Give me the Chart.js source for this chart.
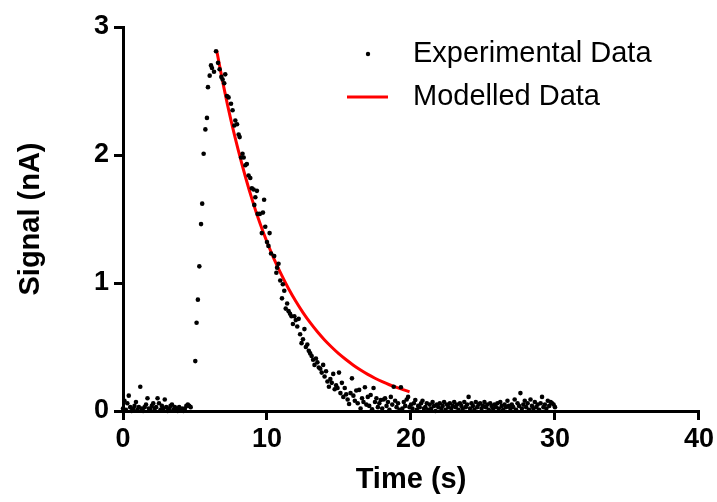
<!DOCTYPE html>
<html>
<head>
<meta charset="utf-8">
<script src="https://cdn.jsdelivr.net/npm/chart.js@4.4.1/dist/chart.umd.min.js"></script>
<style>
    html, body { margin: 0; padding: 0; background: #fff; }
    #wrap { width: 717px; height: 502px; }
</style>
</head>
<body>
<div id="wrap"><canvas id="signalChart" width="717" height="502"></canvas></div>
<script>
const baselineBefore = [
    [0.0, 0.02], [0.1, 0.08], [0.2, 0.01], [0.3, 0.06], [0.4, 0.12], [0.5, 0.03], [0.6, 0.0], [0.7, 0.02],
    [0.8, 0.04], [0.9, 0.07], [1.0, 0.01], [1.1, 0.03], [1.2, 0.19], [1.3, 0.02], [1.4, 0.0], [1.5, 0.03],
    [1.6, 0.05], [1.7, 0.10], [1.8, 0.02], [1.9, 0.01], [2.0, 0.04], [2.1, 0.06], [2.2, 0.02], [2.3, 0.03],
    [2.4, 0.10], [2.5, 0.06], [2.6, 0.01], [2.7, 0.04], [2.8, 0.02], [2.9, 0.09], [3.0, 0.03], [3.1, 0.0],
    [3.2, 0.02], [3.3, 0.04], [3.4, 0.05], [3.5, 0.01], [3.6, 0.03], [3.7, 0.02], [3.8, 0.0], [3.9, 0.03],
    [4.0, 0.01], [4.1, 0.02], [4.2, 0.0], [4.3, 0.02], [4.4, 0.04], [4.5, 0.05], [4.6, 0.04], [4.7, 0.03]
];
const rise = [
    [5.02, 0.39], [5.11, 0.69], [5.2, 0.87], [5.3, 1.13], [5.42, 1.46], [5.5, 1.62], [5.6, 2.01],
    [5.72, 2.20], [5.83, 2.29], [5.9, 2.53], [6.02, 2.62], [6.11, 2.70], [6.18, 2.68], [6.32, 2.65]
];
const decay = [
    [6.46, 2.81], [6.6, 2.72], [6.71, 2.67], [6.83, 2.61], [6.92, 2.59], [7.03, 2.56], [7.1, 2.63],
    [7.22, 2.46], [7.33, 2.45], [7.5, 2.40], [7.61, 2.35], [7.73, 2.23], [7.8, 2.27], [7.92, 2.24],
    [8.03, 2.16], [8.1, 2.14], [8.2, 1.98], [8.3, 2.01], [8.38, 1.98], [8.5, 1.92], [8.6, 1.93],
    [8.72, 1.84], [8.84, 1.82], [8.95, 1.74], [9.07, 1.73], [9.12, 1.61], [9.19, 1.67], [9.3, 1.72],
    [9.35, 1.54], [9.5, 1.54], [9.64, 1.39], [9.72, 1.55], [9.8, 1.65], [9.88, 1.44], [10.0, 1.32],
    [10.1, 1.29], [10.18, 1.39], [10.28, 1.23], [10.5, 1.21], [10.65, 1.08], [10.7, 1.12], [10.8, 1.15],
    [10.92, 1.02], [11.04, 0.88], [11.1, 0.99], [11.2, 0.94], [11.3, 0.80], [11.4, 0.84], [11.5, 0.78],
    [11.6, 0.76], [11.7, 0.74], [11.8, 0.68], [11.9, 0.74], [12.0, 0.71], [12.1, 0.66], [12.2, 0.72],
    [12.3, 0.60], [12.4, 0.53], [12.5, 0.56], [12.6, 0.64], [12.7, 0.50], [12.8, 0.52], [12.9, 0.47],
    [13.0, 0.45], [13.1, 0.43], [13.2, 0.40], [13.3, 0.36], [13.4, 0.41], [13.5, 0.38], [13.6, 0.34],
    [13.7, 0.33], [13.8, 0.30], [13.9, 0.36], [14.0, 0.27], [14.1, 0.31], [14.2, 0.23], [14.3, 0.19],
    [14.4, 0.25], [14.5, 0.22], [14.6, 0.29], [14.7, 0.17], [14.8, 0.20], [14.9, 0.18], [15.0, 0.30],
    [15.1, 0.14], [15.2, 0.22], [15.3, 0.11], [15.4, 0.18], [15.5, 0.13], [15.6, 0.09], [15.7, 0.055],
    [15.8, 0.14], [15.9, 0.255], [16.0, 0.12], [16.1, 0.08], [16.2, 0.16], [16.3, 0.06], [16.4, 0.165],
    [16.5, 0.02], [16.6, 0.10], [16.7, 0.07], [16.8, 0.185], [16.9, 0.05], [17.0, 0.11], [17.1, 0.04],
    [17.2, 0.125], [17.3, 0.013], [17.4, 0.18], [17.5, 0.07], [17.6, 0.10], [17.7, 0.03], [17.8, 0.06],
    [17.9, 0.086], [18.0, 0.02], [18.1, 0.09], [18.2, 0.10], [18.3, 0.04], [18.4, 0.07], [18.5, 0.01],
    [18.6, 0.11], [18.7, 0.05], [18.8, 0.19], [18.9, 0.08], [19.0, 0.03], [19.1, 0.06], [19.2, 0.01],
    [19.3, 0.185], [19.4, 0.02], [19.5, 0.07], [19.6, 0.04], [19.7, 0.09], [19.8, 0.11], [19.9, 0.03],
    [20.0, 0.05], [20.1, 0.02], [20.2, 0.06], [20.3, 0.086], [20.4, 0.01], [20.5, 0.04], [20.6, 0.03],
    [20.7, 0.06], [20.8, 0.08], [20.9, 0.02]
];
const baselineAfter = [
    [21.0, 0.03], [21.1, 0.06], [21.2, 0.01], [21.3, 0.05], [21.4, 0.02], [21.5, 0.07], [21.6, 0.04], [21.7, 0.0],
    [21.8, 0.05], [21.9, 0.03], [22.0, 0.06], [22.1, 0.02], [22.2, 0.04], [22.3, 0.07], [22.4, 0.01], [22.5, 0.05],
    [22.6, 0.03], [22.7, 0.06], [22.8, 0.02], [22.9, 0.04], [23.0, 0.07], [23.1, 0.03], [23.2, 0.05], [23.3, 0.01],
    [23.4, 0.06], [23.5, 0.04], [23.6, 0.02], [23.7, 0.07], [23.8, 0.03], [23.9, 0.05], [24.0, 0.11], [24.1, 0.02],
    [24.2, 0.06], [24.3, 0.04], [24.4, 0.01], [24.5, 0.07], [24.6, 0.03], [24.7, 0.05], [24.8, 0.06], [24.9, 0.02],
    [25.0, 0.04], [25.1, 0.07], [25.2, 0.03], [25.3, 0.05], [25.4, 0.01], [25.5, 0.06], [25.6, 0.04], [25.7, 0.02],
    [25.8, 0.05], [25.9, 0.03], [26.0, 0.06], [26.1, 0.02], [26.2, 0.07], [26.3, 0.04], [26.4, 0.01], [26.5, 0.05],
    [26.6, 0.03], [26.7, 0.08], [26.8, 0.04], [26.9, 0.02], [27.0, 0.05], [27.1, 0.03], [27.2, 0.09], [27.3, 0.01],
    [27.4, 0.06], [27.5, 0.04], [27.6, 0.14], [27.7, 0.02], [27.8, 0.05], [27.9, 0.08], [28.0, 0.03], [28.1, 0.06],
    [28.2, 0.01], [28.3, 0.09], [28.4, 0.04], [28.5, 0.02], [28.6, 0.07], [28.7, 0.03], [28.8, 0.05], [28.9, 0.01],
    [29.0, 0.06], [29.1, 0.11], [29.2, 0.03], [29.3, 0.05], [29.4, 0.02], [29.5, 0.08], [29.6, 0.04], [29.7, 0.07],
    [29.8, 0.06], [29.9, 0.05], [30.0, 0.03]
];

// modelled curve
const modelTime = [6.5, 7.0, 7.5, 8.0, 8.5, 9.0, 9.5, 10.0, 10.5, 11.0, 11.5, 12.0, 12.5, 13.0,
    13.5, 14.0, 14.5, 15.0, 15.5, 16.0, 16.5, 17.0, 17.5, 18.0, 18.5, 19.0, 19.5, 19.9];
const modelSignal = [2.82, 2.53, 2.27, 2.04, 1.83, 1.64, 1.47, 1.32, 1.185, 1.065, 0.955, 0.857, 0.769, 0.69,
    0.619, 0.555, 0.498, 0.446, 0.40, 0.358, 0.32, 0.286, 0.256, 0.229, 0.205, 0.184, 0.165, 0.15];

const xTicks = [0, 10, 20, 30, 40];
const yTicks = [0, 1, 2, 3];

const expPoints = baselineBefore.concat(rise, decay, baselineAfter).map(p => ({ x: p[0], y: p[1] }));
const modelPoints = modelTime.map((t, i) => ({ x: t, y: modelSignal[i] }));

const axisFont = { family: "'Liberation Sans', Arial, sans-serif", weight: 'bold', size: 27 };
const titleFont = { family: "'Liberation Sans', Arial, sans-serif", weight: 'bold', size: 29 };

// legend drawn by hand to sit inside the plot like the original
const legendPlugin = {
    id: 'insideLegend',
    afterDraw(chart) {
        const ctx = chart.ctx;
        ctx.save();
        ctx.font = "29px 'Liberation Sans', Arial, sans-serif";
        ctx.fillStyle = '#000';
        ctx.textBaseline = 'middle';
        ctx.textAlign = 'left';

        ctx.beginPath();
        ctx.arc(368, 54, 2.2, 0, Math.PI * 2);
        ctx.fill();
        ctx.fillText(chart.data.datasets[0].label, 413, 54);

        ctx.strokeStyle = '#ff0000';
        ctx.lineWidth = 3;
        ctx.beginPath();
        ctx.moveTo(347, 97);
        ctx.lineTo(388, 97);
        ctx.stroke();
        ctx.fillText(chart.data.datasets[1].label, 413, 97);
        ctx.restore();
    }
};

const ctx = document.getElementById('signalChart').getContext('2d');
new Chart(ctx, {
    type: 'scatter',
    data: {
        datasets: [{
            label: 'Experimental Data',
            data: expPoints,
            pointRadius: 2.3,
            pointBackgroundColor: '#000',
            pointBorderWidth: 0,
            showLine: false,
            clip: false
        }, {
            label: 'Modelled Data',
            data: modelPoints,
            showLine: true,
            pointRadius: 0,
            borderColor: '#ff0000',
            borderWidth: 3,
            cubicInterpolationMode: 'monotone',
            clip: false
        }]
    },
    options: {
        responsive: false,
        animation: false,
        layout: { padding: { left: 0, right: 18, top: 27, bottom: 0 } },
        plugins: {
            legend: { display: false },
            tooltip: { enabled: false }
        },
        scales: {
            x: {
                type: 'linear',
                min: 0,
                max: 40,
                afterBuildTicks: axis => { axis.ticks = xTicks.map(v => ({ value: v })); },
                afterFit: axis => { axis.height = 91; },
                ticks: { color: '#000', font: axisFont, padding: 3, maxRotation: 0 },
                grid: { drawOnChartArea: false, drawTicks: true, tickLength: 9, color: '#000', lineWidth: 3 },
                border: { display: true, color: '#000', width: 3 },
                title: { display: true, text: 'Time (s)', color: '#000', font: titleFont, padding: { top: 0, bottom: 5 } }
            },
            y: {
                min: 0,
                max: 3,
                afterBuildTicks: axis => { axis.ticks = yTicks.map(v => ({ value: v })); },
                afterFit: axis => { axis.width = 123; },
                ticks: { color: '#000', font: axisFont, padding: 5 },
                grid: { drawOnChartArea: false, drawTicks: true, tickLength: 9, color: '#000', lineWidth: 3 },
                border: { display: true, color: '#000', width: 3 },
                title: { display: true, text: 'Signal (nA)', color: '#000', font: titleFont, padding: { top: 14, bottom: 0 } }
            }
        }
    },
    plugins: [legendPlugin]
});
</script>
</body>
</html>
